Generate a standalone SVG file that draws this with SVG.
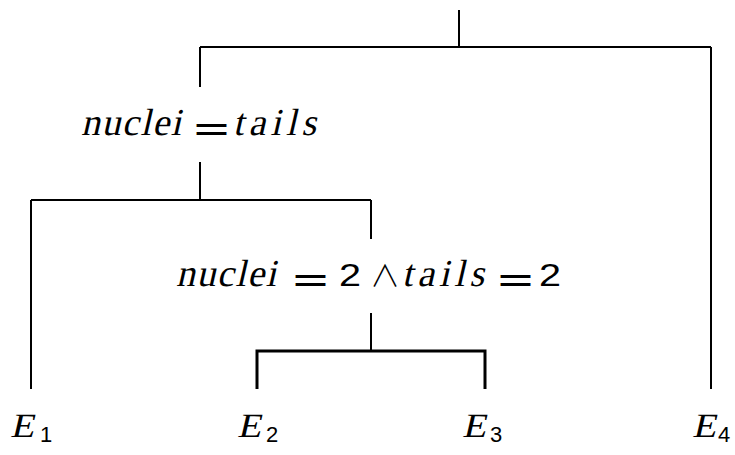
<svg xmlns="http://www.w3.org/2000/svg" width="735" height="455" viewBox="0 0 735 455">
<style>
.it{font-family:"Liberation Serif","Times New Roman",serif;font-size:38px;fill:#000}
.E{font-family:"Liberation Serif","Times New Roman",serif;font-size:34px;fill:#000}
.op{font-family:"DejaVu Sans",sans-serif;font-size:38px;fill:#000}
.and{font-family:"Noto Sans CJK SC","DejaVu Sans",sans-serif;font-size:30px;font-weight:300;fill:#000}
.num{font-family:"Liberation Sans",Arial,sans-serif;font-size:32px;fill:#000}
.sub{font-family:"Liberation Sans",Arial,sans-serif;font-size:22px;fill:#000}
.ln{stroke:#000;stroke-width:2;fill:none}
.lnb{stroke:#000;stroke-width:3;fill:none}
</style>
<rect width="735" height="455" fill="#fff"/>
<g id="connectors">
<path class="ln" d="M459,10V47M200,47H711M200,47V87M711,47V389"/>
<path class="ln" d="M200,162V200M31,200H371M31,200V389M371,200V239"/>
<path class="ln" d="M371,313V351"/>
<path class="lnb" d="M257,389V351H485V389"/>
</g>
<g id="node-nuclei-tails">
<text class="it" transform="translate(81,135) skewX(-13)" textLength="100" lengthAdjust="spacing">nuclei</text>
<text class="op" x="191.5" y="140.5" textLength="40" lengthAdjust="spacingAndGlyphs">=</text>
<text class="it" transform="translate(233,135) skewX(-13)" textLength="83" lengthAdjust="spacing">tails</text>
</g>
<g id="node-nuclei2-tails2">
<text class="it" transform="translate(176,286) skewX(-13)" textLength="100" lengthAdjust="spacing">nuclei</text>
<text class="op" x="290.5" y="291.5" textLength="40" lengthAdjust="spacingAndGlyphs">=</text>
<text class="num" x="339" y="286" textLength="22" lengthAdjust="spacingAndGlyphs">2</text>
<text class="and" x="370" y="286">∧</text>
<text class="it" transform="translate(402,286) skewX(-13)" textLength="82" lengthAdjust="spacing">tails</text>
<text class="op" x="495.5" y="291.5" textLength="40" lengthAdjust="spacingAndGlyphs">=</text>
<text class="num" x="539" y="286" textLength="22" lengthAdjust="spacingAndGlyphs">2</text>
</g>
<g id="leaf-E1"><text class="E" transform="translate(10,437) skewX(-13) scale(1.15,1)">E</text><text class="sub" x="40" y="442">1</text></g>
<g id="leaf-E2"><text class="E" transform="translate(237,437) skewX(-13) scale(1.15,1)">E</text><text class="sub" x="266" y="442">2</text></g>
<g id="leaf-E3"><text class="E" transform="translate(462,437) skewX(-13) scale(1.15,1)">E</text><text class="sub" x="490" y="442">3</text></g>
<g id="leaf-E4"><text class="E" transform="translate(692,437) skewX(-13) scale(1.15,1)">E</text><text class="sub" x="718" y="442">4</text></g>
</svg>
